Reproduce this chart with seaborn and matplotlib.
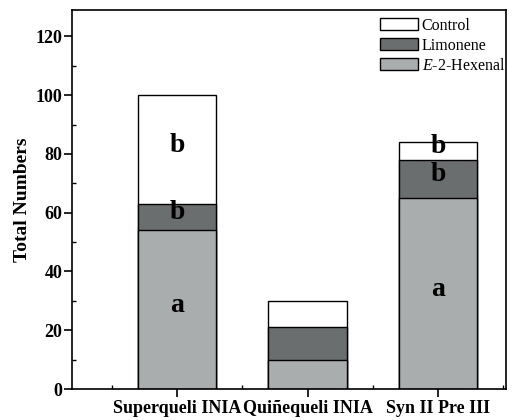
import matplotlib
matplotlib.use("Agg")
import matplotlib.pyplot as plt
from matplotlib.ticker import MultipleLocator
import seaborn as sns
import pandas as pd
import numpy as np

categories = ["Superqueli INIA", "Quiñequeli INIA", "Syn II Pre III"]
hexenal = [54, 10, 65]
limonene = [9, 11, 13]
control = [37, 9, 6]
letters_hexenal = ["a", "", "a"]
letters_limonene = ["b", "", "b"]
letters_control = ["b", "", "b"]
series_names = ["Control", "Limonene", r"$\it{E}$-2-Hexenal"]
colors = ["#ffffff", "#6b6e6e", "#aaadad"]

sns.set_theme(style="ticks")
plt.rcParams["font.family"] = ["Liberation Serif", "DejaVu Serif"]
plt.rcParams["mathtext.fontset"] = "custom"
plt.rcParams["mathtext.it"] = "Liberation Serif:italic"
plt.rcParams["mathtext.rm"] = "Liberation Serif"
for k in ["text.color", "axes.labelcolor", "xtick.color", "ytick.color", "axes.edgecolor"]:
    plt.rcParams[k] = "black"

h = np.array(hexenal)
l = np.array(limonene)
c = np.array(control)
cum_l = h + l
cum_c = h + l + c

df = pd.DataFrame({"cat": categories, "hex": h, "lim": cum_l, "ctl": cum_c})

fig = plt.figure(figsize=(5.16, 4.20), dpi=100)
ax = fig.add_axes([72/516, 31/420, (506-72)/516, (389-10)/420])

for col, color, name in zip(["ctl", "lim", "hex"], colors, series_names):
    sns.barplot(data=df, x="cat", y=col, color=color, width=0.6, ax=ax,
                edgecolor="black", linewidth=1.0, label=name, saturation=1)

# letters
bottoms = [np.zeros(3), h, cum_l]
tops = [h, cum_l, cum_c]
for labs, b, t in zip([letters_hexenal, letters_limonene, letters_control], bottoms, tops):
    for i, s in enumerate(labs):
        if s:
            ax.text(i, (b[i] + t[i]) / 2 + 1.5, s, ha="center", va="center",
                    fontsize=20, fontweight="bold", color="black")

ax.set_xlim(-0.805, 2.52)
ax.set_ylim(0, 129)
ax.yaxis.set_major_locator(MultipleLocator(20))
ax.yaxis.set_minor_locator(MultipleLocator(10))
ax.xaxis.set_minor_locator(MultipleLocator(0.5))
ax.tick_params(which="major", direction="out", length=6, width=1.2, labelsize=13)
ax.tick_params(which="minor", direction="in", length=3, width=1.0)
ax.tick_params(axis="x", which="major", pad=2)
ax.tick_params(axis="y", which="major", pad=1)
for lab in ax.get_xticklabels() + ax.get_yticklabels():
    lab.set_fontweight("bold")
ax.set_xlabel("")
ax.set_ylabel("Total Numbers", fontsize=14, fontweight="bold", labelpad=3)
for sp in ax.spines.values():
    sp.set_visible(True)
    sp.set_linewidth(1.2)

handles, labels = ax.get_legend_handles_labels()
leg = ax.legend(handles[:3], labels[:3], loc="upper right", frameon=False,
                fontsize=11.5, handlelength=2.4, handleheight=0.7,
                handletextpad=0.2, labelspacing=0.25, borderaxespad=0.0,
                borderpad=0.0, bbox_to_anchor=(0.998, 0.98))

fig.savefig("out.png", dpi=100)
